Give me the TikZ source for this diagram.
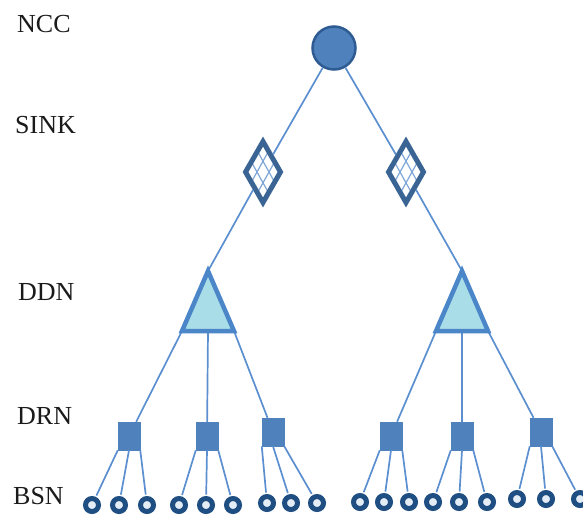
\documentclass[tikz,border=0pt]{standalone}
\usepackage{fontspec}
\setmainfont{Liberation Serif}
\usetikzlibrary{shapes.geometric}
\definecolor{lineblue}{HTML}{5B8FD0}
\definecolor{nccfill}{HTML}{4F81BD}
\definecolor{nccdraw}{HTML}{2E5C92}
\definecolor{sinkdraw}{HTML}{3A6494}
\definecolor{hatchblue}{HTML}{7FA6D8}
\definecolor{tridraw}{HTML}{4A86C8}
\definecolor{trifill}{HTML}{A9DDE8}
\definecolor{sqfill}{HTML}{4F81BD}
\definecolor{bsndraw}{HTML}{1F4E82}
\definecolor{bsnfill}{HTML}{E4ECF6}
\definecolor{txt}{HTML}{1A1A1A}
\tikzset{
  lbl/.style={anchor=west, inner sep=0pt, text=txt, font=\fontsize{26}{26}\selectfont},
  conn/.style={draw=lineblue, line width=1.7pt},
  nccnode/.style={circle, minimum size=43pt, inner sep=0pt, fill=nccfill, draw=nccdraw, line width=2.5pt},
  sinknode/.style={diamond, minimum width=37pt, minimum height=63pt, inner sep=0pt,
    fill=white, draw=sinkdraw, line width=5pt,
    path picture={
      \foreach \o in {-6,6}{
        \draw[hatchblue, line width=1.2pt] ([shift={(\o-20,-36)}]path picture bounding box.center) -- ([shift={(\o+20,36)}]path picture bounding box.center);
        \draw[hatchblue, line width=1.2pt] ([shift={(\o+20,-36)}]path picture bounding box.center) -- ([shift={(\o-20,36)}]path picture bounding box.center);
      }
    }},
  tri/.style={draw=tridraw, fill=trifill, line width=4.5pt, line join=miter},
  drn/.style={rectangle, minimum width=22pt, minimum height=28pt, inner sep=0pt, fill=sqfill, draw=sqfill, line width=0.5pt},
  bsn/.style={circle, minimum size=13pt, inner sep=0pt, fill=bsnfill, draw=bsndraw, line width=5pt},
}
\begin{document}
\begin{tikzpicture}[x=1pt, y=-1pt]
\useasboundingbox (0,0) rectangle (583,515);
% labels
\node[lbl] (lncc) at (17,24) {NCC};
\node[lbl] (lsink) at (15,125) {SINK};
\node[lbl] (lddn) at (18,292) {DDN};
\node[lbl] (ldrn) at (17,416) {DRN};
\node[lbl] (lbsn) at (13,496) {BSN};

% node positions
\coordinate (t1a) at (208,271);
\coordinate (t1l) at (182,331);
\coordinate (t1m) at (208,331);
\coordinate (t1r) at (234,331);
\coordinate (t2a) at (462,271);
\coordinate (t2l) at (436,331);
\coordinate (t2m) at (462,331);
\coordinate (t2r) at (488,331);

\node[nccnode] (ncc) at (334,48) {};
\node[sinknode] (k1) at (263,172) {};
\node[sinknode] (k2) at (406,172) {};

\node[drn] (q1) at (129,436) {};
\node[drn] (q2) at (207,436) {};
\node[drn] (q3) at (273,432) {};
\node[drn] (q4) at (391,436) {};
\node[drn] (q5) at (462,436) {};
\node[drn] (q6) at (541,432) {};

\foreach \i/\x/\y in {1/92/505,2/119/505,3/147/505,4/179/505,5/206/505,6/233/505,7/267/503,8/291/503,9/317/503,
                       10/360/502,11/384/502,12/409/502,13/433/502,14/459/502,15/487/502,16/517/499,17/546/499,18/580/499}
  \node[bsn] (b\i) at (\x,\y) {};

% connectors
\draw[conn] (ncc) -- (k1);
\draw[conn] (ncc) -- (k2);
\draw[conn] (k1) -- (t1a);
\draw[conn] (k2) -- (t2a);
\draw[conn] (t1l) -- (q1);
\draw[conn] (t1m) -- (q2);
\draw[conn] (t1r) -- (q3);
\draw[conn] (t2l) -- (q4);
\draw[conn] (t2m) -- (q5);
\draw[conn] (t2r) -- (q6);
\foreach \q/\a/\b/\c in {1/1/2/3,2/4/5/6,3/7/8/9,4/10/11/12,5/13/14/15,6/16/17/18}{
  \draw[conn, shorten >=1.5pt] (q\q.south west) -- (b\a);
  \draw[conn, shorten >=1.5pt] (q\q.south) -- (b\b);
  \draw[conn, shorten >=1.5pt] (q\q.south east) -- (b\c);
}

% triangles (DDN)
\draw[tri] (t1a) -- (t1l) -- (t1r) -- cycle;
\draw[tri] (t2a) -- (t2l) -- (t2r) -- cycle;
\end{tikzpicture}
\end{document}
